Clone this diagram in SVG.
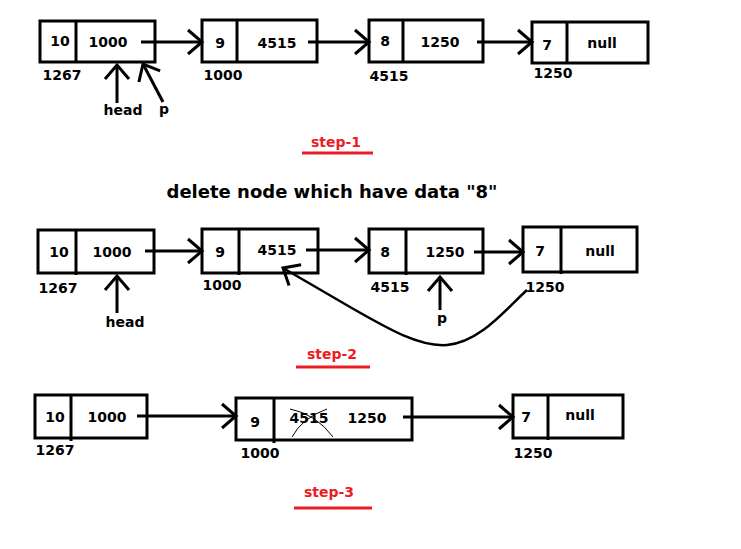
<svg xmlns="http://www.w3.org/2000/svg" width="741" height="549" viewBox="0 0 741 549">
<defs>
<style>
.box{fill:#fff;stroke:#000;stroke-width:3}
.div{stroke:#000;stroke-width:3}
text{font-family:"DejaVu Sans",Verdana,sans-serif;font-weight:bold;font-size:14px;fill:#000;text-anchor:middle}
.red{fill:#ed1c24}
.ul{stroke:#ed1c24;stroke-width:3}
.title{font-size:18px}
.con{fill:none;stroke:#000;stroke-width:3}
.cur{fill:none;stroke:#000;stroke-width:2.5}
.x{fill:none;stroke:#000;stroke-width:1}
</style>
<marker id="arr" markerUnits="userSpaceOnUse" markerWidth="30" markerHeight="30" refX="0" refY="0" orient="auto-start-reverse" style="overflow:visible">
<path d="M-14,-12 L0,0 L-14,12" fill="none" stroke="#000" stroke-width="3"/>
</marker>
</defs>
<rect width="741" height="549" fill="#fff"/>

<g id="n1267a">
<rect class="box" x="40" y="21" width="115" height="41"/>
<line class="div" x1="76" y1="21" x2="76" y2="63"/>
<text x="60" y="46">10</text><text x="108" y="47">1000</text>
<text x="62" y="80">1267</text>
</g>
<g id="n1000a">
<rect class="box" x="202" y="20" width="115" height="42"/>
<line class="div" x1="237" y1="20" x2="237" y2="63"/>
<text x="220" y="48">9</text><text x="277" y="48">4515</text>
<text x="223" y="80">1000</text>
</g>
<g id="n4515a">
<rect class="box" x="369" y="20" width="114" height="42"/>
<line class="div" x1="403" y1="20" x2="403" y2="63"/>
<text x="385" y="46">8</text><text x="440" y="47">1250</text>
<text x="389" y="81">4515</text>
</g>
<g id="n1250a">
<rect class="box" x="532" y="22" width="116" height="41"/>
<line class="div" x1="567" y1="22" x2="567" y2="64"/>
<text x="547" y="50">7</text><text x="602" y="48">null</text>
<text x="553" y="78">1250</text>
</g>
<g id="ptrs1">
<text x="123" y="115">head</text>
<text x="164" y="114">p</text>
</g>
<g id="step1">
<text class="red" x="336" y="147">step-1</text>
<line class="ul" x1="302" y1="153" x2="373" y2="153"/>
</g>
<g id="title">
<text class="title" x="332" y="198">delete node which have data "8"</text>
</g>

<g id="n1267b">
<rect class="box" x="38" y="230" width="116" height="43"/>
<line class="div" x1="76" y1="230" x2="76" y2="275"/>
<text x="59" y="257">10</text><text x="112" y="257">1000</text>
<text x="58" y="293">1267</text>
</g>
<g id="n1000b">
<rect class="box" x="202" y="229" width="116" height="44"/>
<line class="div" x1="239" y1="229" x2="239" y2="275"/>
<text x="220" y="257">9</text><text x="277" y="255">4515</text>
<text x="222" y="290">1000</text>
</g>
<g id="n4515b">
<rect class="box" x="369" y="229" width="114" height="44"/>
<line class="div" x1="406" y1="229" x2="406" y2="275"/>
<text x="385" y="257">8</text><text x="445" y="257">1250</text>
<text x="390" y="292">4515</text>
</g>
<g id="n1250b">
<rect class="box" x="523" y="227" width="114" height="45"/>
<line class="div" x1="561" y1="227" x2="561" y2="274"/>
<text x="540" y="256">7</text><text x="600" y="256">null</text>
<text x="545" y="292">1250</text>
</g>
<g id="ptrs2">
<text x="125" y="327">head</text>
<text x="442" y="323">p</text>
</g>
<g id="step2">
<text class="red" x="332" y="359">step-2</text>
<line class="ul" x1="296" y1="367" x2="370" y2="367"/>
</g>

<g id="n1267c">
<rect class="box" x="35" y="395" width="112" height="43"/>
<line class="div" x1="71" y1="395" x2="71" y2="441"/>
<text x="55" y="422">10</text><text x="107" y="422">1000</text>
<text x="55" y="455">1267</text>
</g>
<g id="n1000c">
<rect class="box" x="236" y="398" width="176" height="42"/>
<line class="div" x1="274" y1="398" x2="274" y2="443"/>
<text x="255" y="427">9</text><text x="309" y="423">4515</text><text x="367" y="423">1250</text>
<path class="x" d="M290,409 Q316,414 333,437"/>
<path class="x" d="M292,437 Q302,418 327,409"/>
<text x="260" y="458">1000</text>
</g>
<g id="n1250c">
<rect class="box" x="513" y="395" width="110" height="43"/>
<line class="div" x1="548" y1="395" x2="548" y2="440"/>
<text x="526" y="422">7</text><text x="580" y="420">null</text>
<text x="533" y="458">1250</text>
</g>
<g id="step3">
<text class="red" x="329" y="497">step-3</text>
<line class="ul" x1="294" y1="508" x2="372" y2="508"/>
</g>

<g id="connectors">
<path class="con" d="M141,42 H202" marker-end="url(#arr)"/>
<path class="con" d="M308,42 H369" marker-end="url(#arr)"/>
<path class="con" d="M477,42 H532" marker-end="url(#arr)"/>
<path class="con" d="M117,103 V65" marker-end="url(#arr)"/>
<path class="con" d="M163,102 L143,64" marker-end="url(#arr)"/>
<path class="con" d="M145,251 H202" marker-end="url(#arr)"/>
<path class="con" d="M306,250 H369" marker-end="url(#arr)"/>
<path class="con" d="M474,252 H523" marker-end="url(#arr)"/>
<path class="con" d="M117,313 V276" marker-end="url(#arr)"/>
<path class="con" d="M440,310 V277" marker-end="url(#arr)"/>
<path class="cur" d="M283,268 L350,307 C390,330 420,347 447,345 C480,342 505,310 527,290" marker-start="url(#arr)"/>
<path class="con" d="M137,416 H236" marker-end="url(#arr)"/>
<path class="con" d="M403,417 H513" marker-end="url(#arr)"/>
</g>
</svg>
